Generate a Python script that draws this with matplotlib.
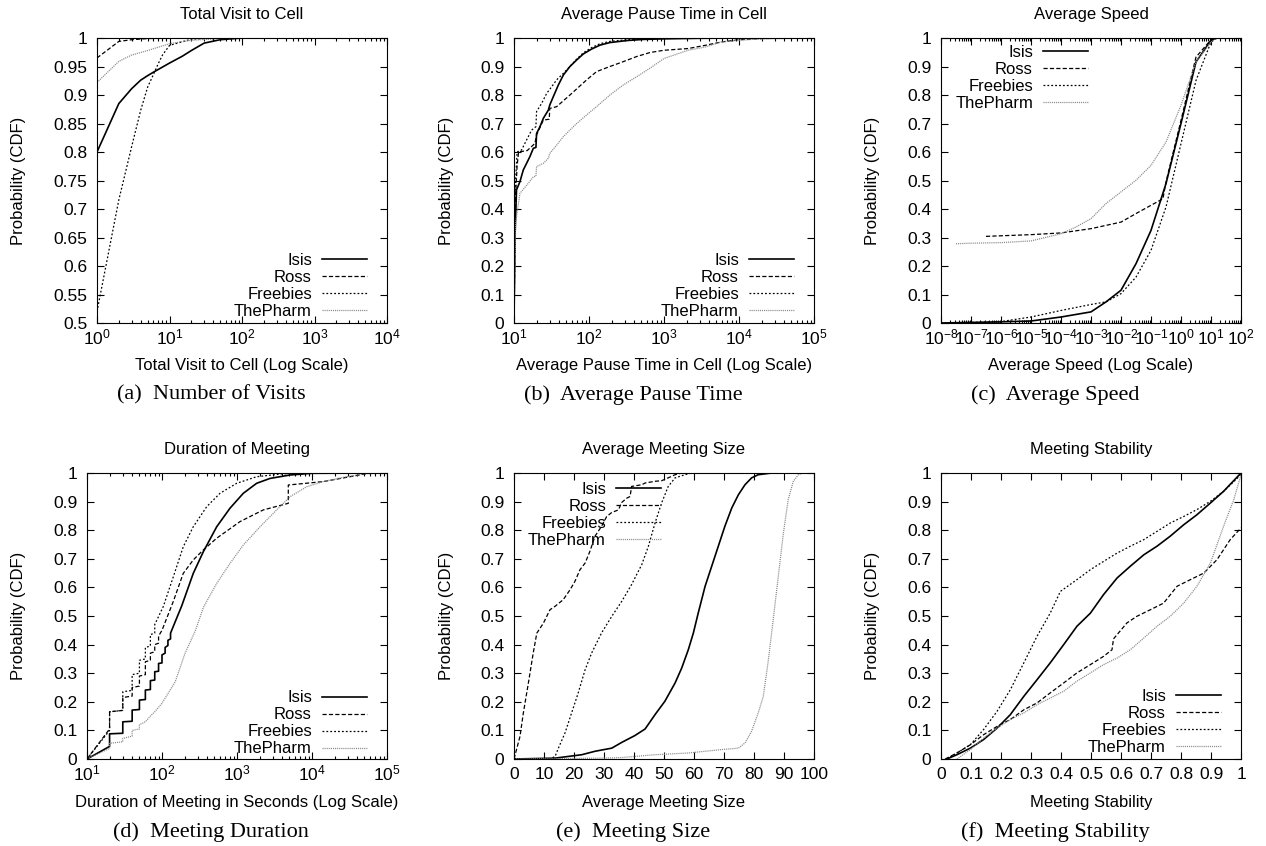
import matplotlib
matplotlib.use('Agg')
import matplotlib.pyplot as plt
from matplotlib.ticker import FixedLocator, FuncFormatter, NullFormatter
import math

plt.rcParams.update({
    'font.family': ['Liberation Sans', 'DejaVu Sans'],
    'font.size': 12,
    'mathtext.fontset': 'custom',
    'mathtext.rm': 'Liberation Sans',
    'mathtext.it': 'Liberation Sans:italic',
    'mathtext.bf': 'Liberation Sans:bold',
    'mathtext.default': 'regular',
    'lines.scale_dashes': False,
    'axes.linewidth': 0.8,
})

series_names = ['Isis', 'Ross', 'Freebies', 'ThePharm']

# ---------------- (a) Total Visit to Cell ----------------
a_isis_x = [1, 2, 3, 4, 5, 6, 8, 10, 15, 20, 30, 50, 100, 10000]
a_isis_y = [0.8, 0.885, 0.911, 0.926, 0.934, 0.94, 0.949, 0.956, 0.968, 0.978, 0.991, 0.997, 1.0, 1.0]
a_ross_x = [1, 2, 3, 5, 10, 10000]
a_ross_y = [0.965, 0.994, 0.997, 0.999, 1.0, 1.0]
a_free_x = [1, 2, 3, 4, 5, 6, 7, 8, 10, 20, 50, 10000]
a_free_y = [0.52, 0.716, 0.809, 0.873, 0.914, 0.936, 0.955, 0.97, 0.987, 0.998, 1.0, 1.0]
a_pharm_x = [1, 2, 3, 5, 10, 20, 50, 100, 10000]
a_pharm_y = [0.922, 0.959, 0.970, 0.978, 0.990, 0.996, 0.999, 1.0, 1.0]

# ---------------- (b) Average Pause Time in Cell ----------------
b_isis_x = [10, 10.3, 10.8, 12.0, 13.3, 14.7, 16.3, 18.1, 19.6, 20, 22.2, 24.6, 28.7, 30, 33.4, 39, 45.5,
            55.7, 68.5, 84, 108, 140, 190, 318, 528, 1000, 3000, 10000, 100000]
b_isis_y = [0, 0.3, 0.467, 0.496, 0.537, 0.56, 0.584, 0.613, 0.616, 0.665, 0.689, 0.718, 0.747, 0.765, 0.794,
            0.835, 0.87, 0.9, 0.923, 0.944, 0.961, 0.975, 0.984, 0.991, 0.995, 0.997, 0.999, 1.0, 1.0]
b_ross_x = [10, 10.5, 11, 11.5, 15, 19, 20, 24.6, 29.5, 30, 37, 55.7, 93, 126, 190, 286, 432, 650, 1000,
            2100, 3500, 5800, 10000, 20000, 50000, 100000]
b_ross_y = [0, 0.45, 0.55, 0.6, 0.605, 0.63, 0.66, 0.712, 0.715, 0.753, 0.759, 0.8, 0.853, 0.882, 0.9, 0.917,
            0.935, 0.949, 0.957, 0.963, 0.974, 0.986, 0.994, 0.998, 1.0, 1.0]
b_free_x = [10, 10.5, 11, 12.6, 14.7, 17.2, 19.6, 20, 23.4, 27.3, 31.8, 37, 45.5, 55.7, 68.5, 84, 108, 140,
            190, 318, 528, 1000, 2000, 100000]
b_free_y = [0, 0.5, 0.6, 0.607, 0.642, 0.677, 0.689, 0.742, 0.771, 0.806, 0.829, 0.853, 0.876, 0.9, 0.926,
            0.948, 0.966, 0.98, 0.988, 0.994, 0.997, 0.999, 1.0, 1.0]
b_pharm_x = [10, 10.5, 12, 15.5, 18.1, 19.6, 20, 24.6, 28.7, 30, 37, 45.5, 55.7, 68.5, 93, 126, 190, 286,
             432, 650, 1000, 2100, 3500, 5800, 10000, 20000, 100000]
b_pharm_y = [0, 0.35, 0.455, 0.49, 0.513, 0.515, 0.549, 0.56, 0.578, 0.595, 0.624, 0.654, 0.677, 0.7, 0.73,
             0.759, 0.8, 0.835, 0.864, 0.894, 0.928, 0.957, 0.968, 0.986, 0.992, 0.997, 1.0]

# ---------------- (c) Average Speed ----------------
c_isis_x = [1e-8, 1e-7, 1e-6, 1e-5, 1e-4, 1e-3, 3.16e-3, 1e-2, 3.16e-2, 1e-1, 3.16e-1, 1, 3.16, 10, 15.8]
c_isis_y = [0.0, 0.002, 0.004, 0.007, 0.021, 0.039, 0.074, 0.115, 0.208, 0.325, 0.489, 0.70, 0.916, 0.992, 1.0]
c_free_x = [1e-8, 1e-7, 1e-6, 1e-5, 1e-4, 1e-3, 3.16e-3, 1e-2, 3.16e-2, 1e-1, 3.16e-1, 1, 3.16, 10, 15.8]
c_free_y = [0.0, 0.002, 0.005, 0.021, 0.044, 0.065, 0.074, 0.103, 0.161, 0.255, 0.407, 0.629, 0.851, 0.986, 1.0]
c_ross_x = [3.16e-7, 1e-6, 1e-5, 1e-4, 1e-3, 1e-2, 3.16e-2, 1e-1, 0.25, 0.316, 1, 3.16, 10, 15.8]
c_ross_y = [0.304, 0.306, 0.31, 0.316, 0.331, 0.354, 0.384, 0.413, 0.436, 0.495, 0.711, 0.933, 0.994, 1.0]
c_pharm_x = [3.16e-8, 1e-7, 1e-6, 1e-5, 1e-4, 3.16e-4, 1e-3, 3.16e-3, 1e-2, 3.16e-2, 1e-1, 3.16e-1, 1, 3.16,
             10, 15.8]
c_pharm_y = [0.278, 0.28, 0.282, 0.288, 0.313, 0.337, 0.366, 0.419, 0.46, 0.501, 0.553, 0.635, 0.764, 0.916,
             0.986, 1.0]

# ---------------- (d) Duration of Meeting ----------------
d_isis_x = [10, 20, 20, 30, 30, 40, 40, 50, 50, 60, 60, 70, 70, 80, 80, 90, 90, 100, 100, 110, 110, 120, 120,
            130, 130, 150, 183, 261, 356, 536, 807, 1213, 1828, 2754, 5090, 10000, 100000]
d_isis_y = [0, 0.044, 0.088, 0.09, 0.13, 0.132, 0.171, 0.173, 0.206, 0.208, 0.241, 0.243, 0.274, 0.276, 0.305,
            0.307, 0.334, 0.336, 0.364, 0.37, 0.39, 0.397, 0.415, 0.42, 0.44, 0.48, 0.535, 0.649, 0.725, 0.812,
            0.877, 0.929, 0.964, 0.981, 0.993, 0.999, 1.0]
d_ross_x = [10, 20, 20, 30, 30, 40, 40, 50, 50, 60, 60, 70, 70, 80, 80, 90, 90, 100, 141, 192, 261, 356, 536,
            1096, 2244, 4830, 4830, 14160, 32100, 60000, 100000]
d_ross_y = [0, 0.105, 0.165, 0.17, 0.215, 0.22, 0.25, 0.255, 0.29, 0.295, 0.34, 0.345, 0.37, 0.375, 0.40,
            0.405, 0.43, 0.45, 0.55, 0.649, 0.696, 0.731, 0.772, 0.83, 0.871, 0.894, 0.958, 0.97, 0.987, 1.0, 1.0]
d_free_x = [10, 20, 20, 30, 30, 40, 40, 50, 50, 60, 60, 70, 70, 80, 80, 104, 141.5, 192, 261, 394, 593, 991,
            1828, 4000, 10000, 100000]
d_free_y = [0, 0.1, 0.165, 0.17, 0.235, 0.24, 0.295, 0.30, 0.345, 0.35, 0.39, 0.395, 0.435, 0.44, 0.47, 0.533,
            0.637, 0.742, 0.812, 0.882, 0.929, 0.964, 0.987, 0.997, 1.0, 1.0]
d_pharm_x = [10, 20, 20, 30, 30, 40, 40, 50, 50, 60, 70, 80, 100, 150, 203, 280, 356, 536, 807, 1213, 2026,
             3380, 5090, 8490, 14160, 26200, 50000, 100000]
d_pharm_y = [0, 0.037, 0.055, 0.06, 0.072, 0.08, 0.1, 0.105, 0.12, 0.13, 0.15, 0.165, 0.195, 0.27, 0.37, 0.45,
             0.53, 0.614, 0.684, 0.748, 0.812, 0.871, 0.917, 0.952, 0.97, 0.985, 0.997, 1.0]

# ---------------- (e) Average Meeting Size ----------------
e_ross_x = [0, 2, 3.1, 4.8, 6.4, 7.6, 9.8, 12, 13.7, 16.4, 18.7, 20.3, 22, 23.7, 25.3, 27, 29.2, 30.9, 32.6,
            34.8, 35.9, 37.6, 38.7, 39.2, 42.6, 43.7, 47, 49.2, 51.4, 53.7, 55.9, 100]
e_ross_y = [0, 0.079, 0.16, 0.266, 0.37, 0.44, 0.475, 0.522, 0.534, 0.557, 0.592, 0.621, 0.662, 0.685, 0.726,
            0.779, 0.814, 0.848, 0.862, 0.871, 0.897, 0.912, 0.918, 0.953, 0.959, 0.965, 0.971, 0.973, 0.983,
            0.994, 1.0, 1.0]
e_free_x = [0, 12, 13.7, 14.8, 17, 19.2, 21.4, 23.7, 25.9, 29.2, 32.6, 35.9, 39.2, 42.6, 44.8, 47, 49.2, 51.4,
            53.7, 57, 59.2, 100]
e_free_y = [0, 0, 0.009, 0.038, 0.091, 0.161, 0.231, 0.312, 0.371, 0.441, 0.499, 0.551, 0.61, 0.68, 0.744,
            0.825, 0.895, 0.953, 0.983, 0.994, 1.0, 1.0]
e_isis_x = [0, 13.7, 22.6, 27, 32.6, 35.9, 40.3, 43.7, 47, 50.3, 53.7, 55.9, 58.1, 59.8, 61.4, 63.7, 65.9,
            68.1, 70.3, 72.6, 74.8, 77, 79.2, 81.4, 85.9, 100]
e_isis_y = [0, 0.003, 0.015, 0.027, 0.038, 0.058, 0.082, 0.105, 0.155, 0.202, 0.266, 0.318, 0.382, 0.441,
            0.51, 0.604, 0.674, 0.744, 0.814, 0.878, 0.924, 0.959, 0.983, 0.994, 1.0, 1.0]
e_pharm_x = [0, 30, 35.9, 47, 58.1, 69.2, 74.8, 77, 79.2, 81.4, 83.1, 84.8, 86.4, 88.1, 89.8, 91.4, 93.1,
             94.8, 96.4, 100]
e_pharm_y = [0, 0.003, 0.005, 0.015, 0.021, 0.033, 0.038, 0.056, 0.097, 0.161, 0.219, 0.347, 0.487, 0.639,
             0.79, 0.907, 0.971, 0.994, 1.0, 1.0]

# ---------------- (f) Meeting Stability ----------------
f_isis_x = [0.02, 0.053, 0.098, 0.142, 0.187, 0.231, 0.276, 0.32, 0.364, 0.409, 0.453, 0.498, 0.542, 0.587,
            0.631, 0.676, 0.72, 0.764, 0.809, 0.853, 0.898, 0.942, 1.0]
f_isis_y = [0, 0.015, 0.038, 0.068, 0.108, 0.155, 0.219, 0.277, 0.336, 0.4, 0.464, 0.51, 0.575, 0.633, 0.674,
            0.714, 0.744, 0.779, 0.819, 0.854, 0.895, 0.936, 1.0]
f_free_x = [0.02, 0.053, 0.098, 0.142, 0.187, 0.231, 0.276, 0.32, 0.364, 0.398, 0.453, 0.498, 0.542, 0.587,
            0.631, 0.676, 0.72, 0.764, 0.809, 0.853, 0.898, 0.942, 1.0]
f_free_y = [0, 0.021, 0.05, 0.103, 0.167, 0.242, 0.336, 0.429, 0.51, 0.586, 0.627, 0.662, 0.691, 0.72, 0.744,
            0.767, 0.796, 0.825, 0.848, 0.872, 0.901, 0.936, 0.994]
f_ross_x = [0.014, 0.053, 0.098, 0.142, 0.187, 0.231, 0.276, 0.32, 0.364, 0.409, 0.453, 0.498, 0.542, 0.57,
            0.575, 0.62, 0.653, 0.698, 0.742, 0.787, 0.831, 0.876, 0.92, 0.964, 1.0]
f_ross_y = [0, 0.021, 0.05, 0.085, 0.114, 0.138, 0.172, 0.196, 0.231, 0.266, 0.301, 0.33, 0.359, 0.382, 0.42,
            0.476, 0.499, 0.522, 0.545, 0.604, 0.627, 0.65, 0.697, 0.767, 0.808]
f_pharm_x = [0.053, 0.098, 0.142, 0.187, 0.231, 0.276, 0.32, 0.364, 0.409, 0.453, 0.498, 0.542, 0.587, 0.631,
             0.676, 0.72, 0.764, 0.809, 0.853, 0.898, 0.942, 0.976, 1.0]
f_pharm_y = [0, 0.033, 0.073, 0.108, 0.138, 0.161, 0.19, 0.213, 0.237, 0.272, 0.301, 0.33, 0.353, 0.382,
             0.423, 0.464, 0.499, 0.545, 0.604, 0.685, 0.814, 0.907, 0.994]

# ---------------- text ----------------
titles = ['Total Visit to Cell', 'Average Pause Time in Cell', 'Average Speed',
          'Duration of Meeting', 'Average Meeting Size', 'Meeting Stability']
xlabels = ['Total Visit to Cell (Log Scale)', 'Average Pause Time in Cell (Log Scale)',
           'Average Speed (Log Scale)', 'Duration of Meeting in Seconds (Log Scale)',
           'Average Meeting Size', 'Meeting Stability']
captions = ['(a)  Number of Visits', '(b)  Average Pause Time', '(c)  Average Speed',
            '(d)  Meeting Duration', '(e)  Meeting Size', '(f)  Meeting Stability']
ylabel = 'Probability (CDF)'

a_yticks = [0.5, 0.55, 0.6, 0.65, 0.7, 0.75, 0.8, 0.85, 0.9, 0.95, 1.0]
std_yticks = [0, 0.1, 0.2, 0.3, 0.4, 0.5, 0.6, 0.7, 0.8, 0.9, 1.0]
e_xticks = [0, 10, 20, 30, 40, 50, 60, 70, 80, 90, 100]
f_xticks = [0, 0.1, 0.2, 0.3, 0.4, 0.5, 0.6, 0.7, 0.8, 0.9, 1.0]

# ---------------- styles ----------------
styles = [
    dict(color='black', lw=1.2, ls='-'),
    dict(color='black', lw=0.9, ls=(0, (3.0, 1.6))),
    dict(color='black', lw=0.9, ls=(0, (1.3, 1.5))),
    dict(color='#8a8a8a', lw=0.9, ls=(0, (0.8, 0.7))),
]

W, H = 1266, 846
fig = plt.figure(figsize=(W / 100, H / 100), dpi=100)


def px_axes(l, t, r, b):
    return fig.add_axes([l / W, 1 - b / H, (r - l) / W, (b - t) / H])


def decade_fmt(v, pos):
    e = int(round(math.log10(v)))
    return r'$10^{%d}$' % e


def gfmt(v, pos):
    return '%g' % v


def setup(ax, xlog, xlim, ylim, yticks, xticks=None, idx=0):
    if xlog:
        ax.set_xscale('log')
        lo, hi = int(round(math.log10(xlim[0]))), int(round(math.log10(xlim[1])))
        majors = [10.0 ** k for k in range(lo, hi + 1)]
        minors = [m * 10.0 ** k for k in range(lo, hi) for m in range(2, 10)]
        ax.xaxis.set_major_locator(FixedLocator(majors))
        ax.xaxis.set_minor_locator(FixedLocator(minors))
        ax.xaxis.set_major_formatter(FuncFormatter(decade_fmt))
        ax.xaxis.set_minor_formatter(NullFormatter())
        xpad = 3
    else:
        ax.xaxis.set_major_locator(FixedLocator(xticks))
        ax.xaxis.set_major_formatter(FuncFormatter(gfmt))
        xpad = 6
    ax.set_xlim(*xlim)
    ax.set_ylim(*ylim)
    ax.yaxis.set_major_locator(FixedLocator(yticks))
    ax.yaxis.set_major_formatter(FuncFormatter(gfmt))
    ax.tick_params(which='both', direction='in', top=True, right=True, width=0.8, labelsize=12.5)
    ax.tick_params(which='major', length=5)
    ax.tick_params(which='minor', length=2.5)
    ax.tick_params(axis='x', which='major', pad=xpad)
    ax.tick_params(axis='y', which='major', pad=7)
    ax.set_title(titles[idx], fontsize=12, pad=13.5)
    ax.set_xlabel(xlabels[idx], fontsize=12)
    ax.set_ylabel(ylabel, fontsize=12)


def draw(ax, data):
    for (x, y), st, name in zip(data, styles, series_names):
        ax.plot(x, y, label=name, **st)


def leg(ax, loc, anchor):
    ax.legend(loc=loc, bbox_to_anchor=anchor, frameon=False, markerfirst=False, handlelength=2.7,
              handletextpad=0.6, labelspacing=0.12, borderpad=0, borderaxespad=0, fontsize=12)


# axes rectangles in pixels (left, top, right, bottom)
rects = [(97, 38, 387, 323), (514, 38, 814, 323), (941, 38, 1241, 323),
         (87, 473, 387, 759), (514, 473, 814, 759), (941, 473, 1241, 759)]
ylabel_cx = [18, 446, 872, 18, 446, 872]
xlabel_cy = [366, 366, 366, 803, 803, 803]
caption_cx = [211, 633, 1055, 211, 633, 1055]
caption_cy = [395, 395, 395, 832, 832, 832]

axes = [px_axes(*r) for r in rects]

draw(axes[0], [(a_isis_x, a_isis_y), (a_ross_x, a_ross_y), (a_free_x, a_free_y), (a_pharm_x, a_pharm_y)])
setup(axes[0], True, (1, 1e4), (0.5, 1.0), a_yticks, idx=0)
leg(axes[0], 'lower right', (0.931, 0.014))

draw(axes[1], [(b_isis_x, b_isis_y), (b_ross_x, b_ross_y), (b_free_x, b_free_y), (b_pharm_x, b_pharm_y)])
setup(axes[1], True, (10, 1e5), (0, 1.0), std_yticks, idx=1)
leg(axes[1], 'lower right', (0.933, 0.014))

draw(axes[2], [(c_isis_x, c_isis_y), (c_ross_x, c_ross_y), (c_free_x, c_free_y), (c_pharm_x, c_pharm_y)])
setup(axes[2], True, (1e-8, 1e2), (0, 1.0), std_yticks, idx=2)
leg(axes[2], 'upper right', (0.49, 0.976))

draw(axes[3], [(d_isis_x, d_isis_y), (d_ross_x, d_ross_y), (d_free_x, d_free_y), (d_pharm_x, d_pharm_y)])
setup(axes[3], True, (10, 1e5), (0, 1.0), std_yticks, idx=3)
leg(axes[3], 'lower right', (0.933, 0.009))

draw(axes[4], [(e_isis_x, e_isis_y), (e_ross_x, e_ross_y), (e_free_x, e_free_y), (e_pharm_x, e_pharm_y)])
setup(axes[4], False, (0, 100), (0, 1.0), std_yticks, xticks=e_xticks, idx=4)
leg(axes[4], 'upper right', (0.49, 0.970))

draw(axes[5], [(f_isis_x, f_isis_y), (f_ross_x, f_ross_y), (f_free_x, f_free_y), (f_pharm_x, f_pharm_y)])
setup(axes[5], False, (0, 1), (0, 1.0), std_yticks, xticks=f_xticks, idx=5)
leg(axes[5], 'lower right', (0.933, 0.013))

for i, ax in enumerate(axes):
    l, t, r, b = rects[i]
    ax.yaxis.set_label_coords((ylabel_cx[i] + 8 - l) / (r - l), 0.5)
    ax.xaxis.set_label_coords(0.5, -(xlabel_cy[i] - 8 - b) / (b - t))
    fig.text(caption_cx[i] / W, 1 - caption_cy[i] / H, captions[i], family='Liberation Serif',
             fontsize=16, ha='center', va='center')

fig.savefig('out.png', dpi=100)
